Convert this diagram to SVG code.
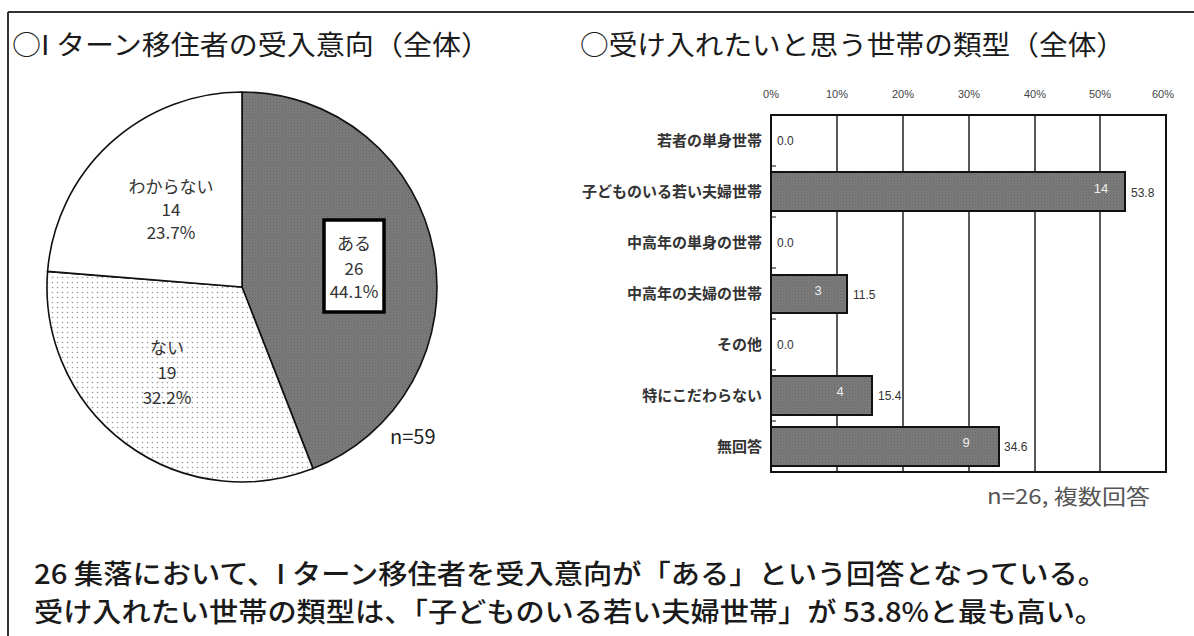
<svg xmlns="http://www.w3.org/2000/svg" width="1194" height="636" viewBox="0 0 1194 636">
<defs>
<pattern id="dark" width="3" height="3" patternUnits="userSpaceOnUse">
<rect width="3" height="3" fill="#7c7c7c"/>
<rect x="0" y="0" width="1" height="1" fill="#636363"/>
<rect x="1.5" y="1.5" width="1" height="1" fill="#686868"/>
</pattern>
<pattern id="dots" width="5" height="5" patternUnits="userSpaceOnUse">
<rect width="5" height="5" fill="#fff"/>
<circle cx="2.5" cy="2.5" r="0.8" fill="#9a9a9a"/>
</pattern>
<style>
.t{font-family:"Noto Sans CJK JP","Noto Sans",sans-serif;fill:#222}
.title{font-size:27px;font-weight:normal;fill:#1a1a1a}
.pl{font-size:17px;fill:#333;text-anchor:middle}
.cat{font-size:15px;fill:#333;text-anchor:end;font-weight:bold}
.ax{font-family:"Liberation Sans",sans-serif;font-size:11px;fill:#444;text-anchor:middle}
.val{font-family:"Liberation Sans",sans-serif;font-size:12px;fill:#333}
.inv{font-family:"Liberation Sans",sans-serif;font-size:13px;fill:#eee;text-anchor:middle}
.bar{fill:url(#dark);stroke:#111;stroke-width:2}
.grid{stroke:#222;stroke-width:1.5}
.note{font-size:21px;fill:#555}
.body{font-size:27px;fill:#1a1a1a;font-weight:500}
</style>
</defs>
<rect width="1194" height="636" fill="#fff"/>
<g id="frame" stroke="#333" stroke-width="2" fill="none">
<line x1="8" y1="12" x2="1194" y2="12"/>
<line x1="8" y1="12" x2="8" y2="636"/>
</g>
<g id="title-left"><text class="t title" x="12" y="55" textLength="478" lengthAdjust="spacingAndGlyphs">○I ターン移住者の受入意向（全体）</text></g>
<g id="title-right"><text class="t title" x="580" y="55" textLength="545" lengthAdjust="spacingAndGlyphs">○受け入れたいと思う世帯の類型（全体）</text></g>

<g id="pie" stroke="#111" stroke-width="1.6">
<path id="slice-aru" d="M242,287 L242,92 A195,195 0 0 1 313,468.6 Z" fill="url(#dark)"/>
<path id="slice-nai" d="M242,287 L313,468.6 A195,195 0 0 1 47.6,271.4 Z" fill="url(#dots)"/>
<path id="slice-wakaranai" d="M242,287 L47.6,271.4 A195,195 0 0 1 242,92 Z" fill="#fff"/>
</g>
<g id="label-wakaranai" class="t">
<text class="pl" x="171" y="193">わからない</text>
<text class="pl" x="171" y="216">14</text>
<text class="pl" x="171" y="239">23.7%</text>
</g>
<g id="label-nai" class="t">
<text class="pl" x="167" y="354">ない</text>
<text class="pl" x="167" y="379">19</text>
<text class="pl" x="167" y="404">32.2%</text>
</g>
<g id="label-aru">
<rect x="324" y="220" width="60" height="92" fill="#fff" stroke="#000" stroke-width="3.5"/>
<text class="t pl" x="354" y="250">ある</text>
<text class="t pl" x="354" y="275">26</text>
<text class="t pl" x="354" y="298">44.1%</text>
</g>
<g id="n59"><text class="t" x="390" y="444" font-size="20" fill="#555">n=59</text></g>

<g id="bar-chart">
<g id="axis-labels">
<text class="ax" x="771" y="98">0%</text>
<text class="ax" x="837" y="98">10%</text>
<text class="ax" x="903" y="98">20%</text>
<text class="ax" x="969" y="98">30%</text>
<text class="ax" x="1035" y="98">40%</text>
<text class="ax" x="1100" y="98">50%</text>
<text class="ax" x="1163" y="98">60%</text>
</g>
<g id="grid">
<line class="grid" x1="837" y1="115" x2="837" y2="472"/>
<line class="grid" x1="903" y1="115" x2="903" y2="472"/>
<line class="grid" x1="969" y1="115" x2="969" y2="472"/>
<line class="grid" x1="1035" y1="115" x2="1035" y2="472"/>
<line class="grid" x1="1100" y1="115" x2="1100" y2="472"/>
<g stroke="#333" stroke-width="1.2">
<line x1="771" y1="166" x2="776" y2="166"/>
<line x1="771" y1="217" x2="776" y2="217"/>
<line x1="771" y1="268" x2="776" y2="268"/>
<line x1="771" y1="319" x2="776" y2="319"/>
<line x1="771" y1="370" x2="776" y2="370"/>
<line x1="771" y1="421" x2="776" y2="421"/>
</g>
</g>
<g id="row1">
<text class="t cat" x="762" y="146">若者の単身世帯</text>
<text class="val" x="777" y="145">0.0</text>
</g>
<g id="row2">
<text class="t cat" x="762" y="197">子どものいる若い夫婦世帯</text>
<rect class="bar" x="771" y="172" width="354" height="39"/>
<text class="inv" x="1101" y="193">14</text>
<text class="val" x="1131" y="197">53.8</text>
</g>
<g id="row3">
<text class="t cat" x="762" y="248">中高年の単身の世帯</text>
<text class="val" x="777" y="247">0.0</text>
</g>
<g id="row4">
<text class="t cat" x="762" y="299">中高年の夫婦の世帯</text>
<rect class="bar" x="771" y="275" width="76" height="38"/>
<text class="inv" x="818" y="295">3</text>
<text class="val" x="853" y="299">11.5</text>
</g>
<g id="row5">
<text class="t cat" x="762" y="350">その他</text>
<text class="val" x="777" y="349">0.0</text>
</g>
<g id="row6">
<text class="t cat" x="762" y="401">特にこだわらない</text>
<rect class="bar" x="771" y="376" width="101" height="39"/>
<text class="inv" x="840" y="396">4</text>
<text class="val" x="878" y="400">15.4</text>
</g>
<g id="row7">
<text class="t cat" x="762" y="452">無回答</text>
<rect class="bar" x="771" y="427" width="228" height="39"/>
<text class="inv" x="966" y="447">9</text>
<text class="val" x="1004" y="451">34.6</text>
</g>
<rect id="plot-border" x="771" y="115" width="395" height="357" fill="none" stroke="#111" stroke-width="2"/>
</g>
<g id="n26"><text class="t note" x="987" y="504" textLength="163" lengthAdjust="spacingAndGlyphs">n=26, 複数回答</text></g>

<g id="summary">
<text class="t body" x="34" y="584" textLength="1073" lengthAdjust="spacingAndGlyphs">26 集落において、I ターン移住者を受入意向が「ある」という回答となっている。</text>
<text class="t body" x="34" y="622" textLength="1070" lengthAdjust="spacingAndGlyphs">受け入れたい世帯の類型は、「子どものいる若い夫婦世帯」が 53.8%と最も高い。</text>
</g>
</svg>
